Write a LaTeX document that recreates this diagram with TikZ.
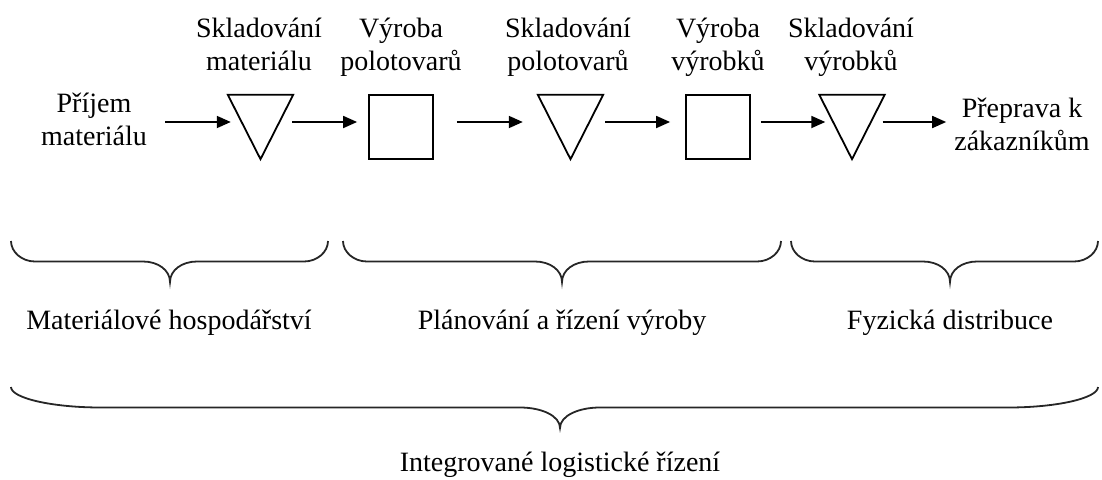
\documentclass[tikz,border=0pt]{standalone}
\usepackage{fontspec}
\setmainfont{Liberation Serif}
\usetikzlibrary{arrows.meta,calc}
\newcommand{\curlybr}[6]{% #1 left x, #2 right x, #3 tip x, #4 top y, #5 end curve width, #6 tip curve width
  \draw[bracest] (#1,#4) .. controls (#1,{#4+11}) and ({#1+0.45*#5},{#4+20.5}) .. ({#1+#5},{#4+20.5})
    -- ({#3-#6},{#4+20.5}) .. controls ({#3-0.45*#6},{#4+20.5}) and (#3,{#4+29}) .. (#3,{#4+41})
    .. controls (#3,{#4+29}) and ({#3+0.45*#6},{#4+20.5}) .. ({#3+#6},{#4+20.5})
    -- ({#2-#5},{#4+20.5}) .. controls ({#2-0.45*#5},{#4+20.5}) and (#2,{#4+11}) .. (#2,#4);}
\begin{document}
\begin{tikzpicture}[x=1pt,y=-1pt,
  lbl/.style={inner sep=0pt,align=center,font={\fontsize{28}{33}\selectfont}},
  sq/.style={draw,line width=1.8pt,minimum width=64pt,minimum height=64pt,inner sep=0pt},
  tribox/.style={minimum width=65pt,minimum height=64pt,inner sep=0pt},
  tri/.style={line width=1.8pt,line join=miter},
  arr/.style={line width=1.8pt,-{Triangle[length=14pt,width=12pt]}},
  bracest/.style={line width=1.8pt,black!85}]
\path[use as bounding box] (0,0) rectangle (1102,479);
% shapes
\node[tribox] (t1) at (260.5,127) {};
\node[sq] (s1) at (401,127) {};
\node[tribox] (t2) at (570.5,127) {};
\node[sq] (s2) at (718,127) {};
\node[tribox] (t3) at (852,127) {};
\foreach \t in {t1,t2,t3}
  \draw[tri] (\t.north west) -- (\t.north east) -- (\t.south) -- cycle;
% top labels (base = baseline of the last line)
\node[lbl,anchor=base] (l1) at (259,70) {Skladování\\materiálu};
\node[lbl,anchor=base] (l2) at (401,70) {Výroba\\polotovarů};
\node[lbl,anchor=base] (l3) at (568,70) {Skladování\\polotovarů};
\node[lbl,anchor=base] (l4) at (718,70) {Výroba\\výrobků};
\node[lbl,anchor=base] (l5) at (851,70) {Skladování\\výrobků};
% side texts
\node[lbl,anchor=base] (lt) at (94,145) {Příjem\\materiálu};
\node[lbl,anchor=base] (rt) at (1022,150) {Přeprava k\\zákazníkům};
% arrows
\draw[arr] ($(lt.east |- t1.west)+(18,-5)$) -- ([xshift=3pt,yshift=5pt]t1.west);
\draw[arr] ([xshift=-1pt,yshift=5pt]t1.east) -- ([xshift=-11pt,yshift=5pt]s1.west);
\draw[arr] ([xshift=23pt,yshift=5pt]s1.east) -- ([xshift=-15pt,yshift=5pt]t2.west);
\draw[arr] ([xshift=2pt,yshift=5pt]t2.east) -- ([xshift=-15pt,yshift=5pt]s2.west);
\draw[arr] ([xshift=10pt,yshift=5pt]s2.east) -- ([xshift=6pt,yshift=5pt]t3.west);
\draw[arr] ([xshift=-2pt,yshift=5pt]t3.east) -- ($(rt.west |- t3.east)+(-8,-5)$);
% braces
\curlybr{11}{328}{170}{241}{24}{27}
\curlybr{343}{781}{562}{241}{24}{27}
\curlybr{791}{1098}{950}{241}{24}{27}
\curlybr{11}{1098}{560}{387}{90}{40}
% brace labels
\node[lbl,anchor=base] (b1) at (169,329) {Materiálové hospodářství};
\node[lbl,anchor=base] (b2) at (562,329) {Plánování a řízení výroby};
\node[lbl,anchor=base] (b3) at (950,329) {Fyzická distribuce};
\node[lbl,anchor=base] (b4) at (560,471) {Integrované logistické řízení};
\end{tikzpicture}
\end{document}
